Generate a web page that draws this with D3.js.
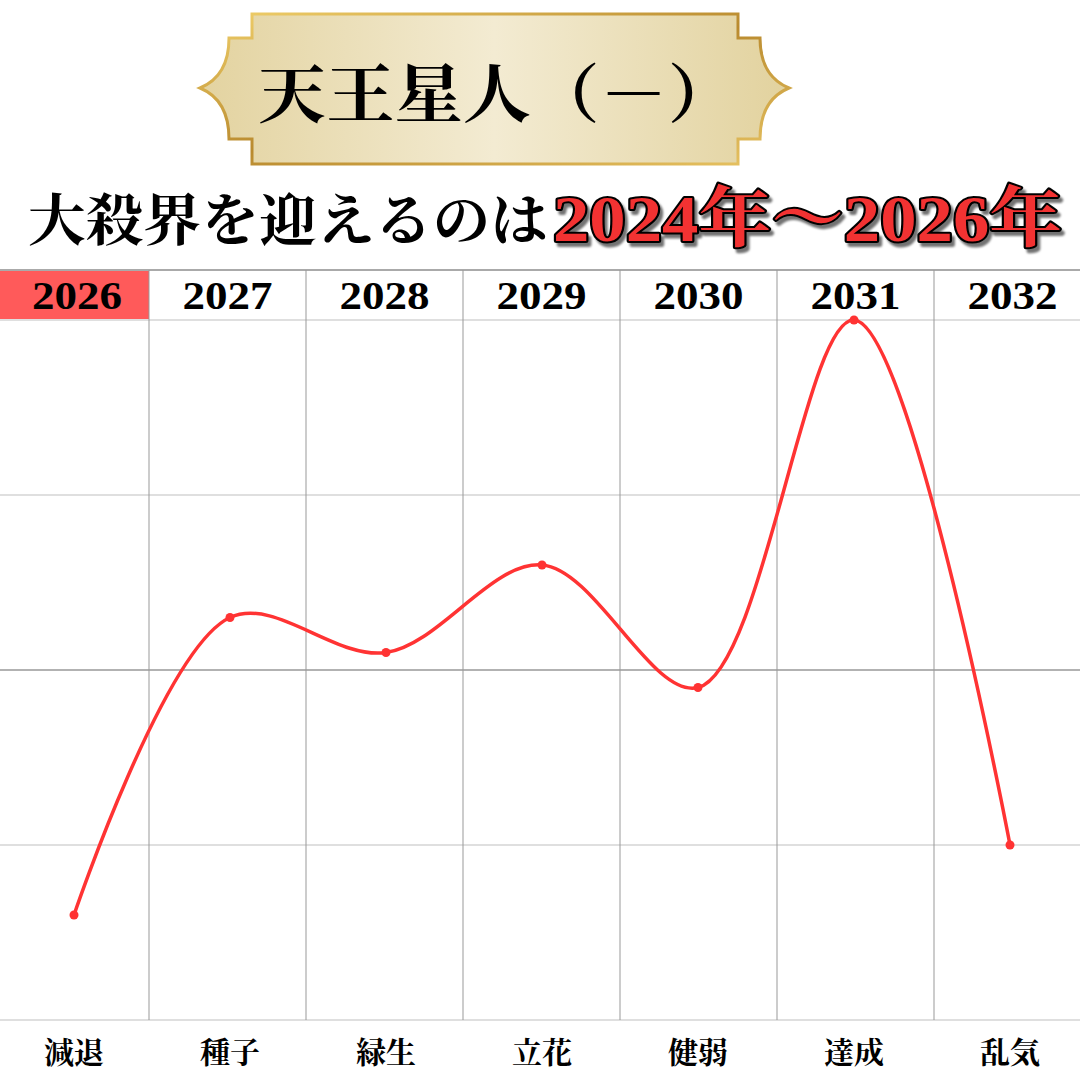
<!DOCTYPE html>
<html>
<head>
<meta charset="utf-8">
<script src="https://cdn.jsdelivr.net/npm/d3@7"></script>
<style>
  body { margin: 0; background: #fff; }
  svg { display: block; }
</style>
</head>
<body>
<svg width="1080" height="1080"></svg>
<script>
// data
let years = ["2026", "2027", "2028", "2029", "2030", "2031", "2032"]
let phases = ["減退", "種子", "緑生", "立花", "健弱", "達成", "乱気"]
let fortune = [0.6, 2.3, 2.1, 2.6, 1.9, 4.0, 1.0]
let yTicks = [0, 1, 2, 3, 4]

let titleText = "天王星人（－）"
let subText = "大殺界を迎えるのは"
let subRed = "2024年〜2026年"

let jpFont = "'Noto Serif CJK JP', 'Noto Sans CJK JP', sans-serif"
let numFont = "'Liberation Serif', 'DejaVu Serif', 'Noto Serif CJK JP', serif"

let svg = d3.select("svg")

let defs = svg.append("defs")
let gold = defs.append("linearGradient").attr("id", "gold")
  .attr("x1", "0%").attr("x2", "100%")
gold.append("stop").attr("offset", "0%").attr("stop-color", "#e3d3a0")
gold.append("stop").attr("offset", "50%").attr("stop-color", "#f3ebd2")
gold.append("stop").attr("offset", "100%").attr("stop-color", "#e2d29e")

let goldEdge = defs.append("linearGradient").attr("id", "goldEdge")
  .attr("x1", "0%").attr("x2", "100%").attr("y1", "0%").attr("y2", "100%")
goldEdge.append("stop").attr("offset", "0%").attr("stop-color", "#f0cf6a")
goldEdge.append("stop").attr("offset", "50%").attr("stop-color", "#b98a2e")
goldEdge.append("stop").attr("offset", "100%").attr("stop-color", "#e8c463")

defs.append("filter").attr("id", "shadow")
  .attr("x", "-5%").attr("y", "-20%").attr("width", "110%").attr("height", "140%")
  .append("feDropShadow")
  .attr("dx", 3).attr("dy", 4)
  .attr("stdDeviation", 1)
  .attr("flood-color", "#000")
  .attr("flood-opacity", 0.55)

// banner
let banner = d3.path()
banner.moveTo(252, 14)
banner.lineTo(738, 14)
banner.lineTo(738, 38)
banner.lineTo(760, 38)
banner.quadraticCurveTo(760, 76, 789, 88)
banner.quadraticCurveTo(760, 100, 760, 139)
banner.lineTo(738, 139)
banner.lineTo(738, 164)
banner.lineTo(252, 164)
banner.lineTo(252, 139)
banner.lineTo(229, 139)
banner.quadraticCurveTo(229, 100, 200, 88)
banner.quadraticCurveTo(229, 76, 229, 38)
banner.lineTo(252, 38)
banner.closePath()

svg.append("path")
  .attr("d", banner.toString())
  .style("fill", "url(#gold)")
  .style("stroke", "url(#goldEdge)")
  .style("stroke-width", 3)

svg.append("text")
  .attr("x", 258)
  .attr("y", 117)
  .attr("textLength", 478)
  .attr("lengthAdjust", "spacingAndGlyphs")
  .style("font-family", jpFont)
  .style("font-weight", 700)
  .style("font-size", "64px")
  .style("fill", "#000")
  .text(titleText)

// subtitle
svg.append("text")
  .attr("x", 28)
  .attr("y", 240)
  .attr("textLength", 520)
  .attr("lengthAdjust", "spacingAndGlyphs")
  .style("font-family", jpFont)
  .style("font-weight", 700)
  .style("font-size", "56px")
  .style("fill", "#000")
  .text(subText)

svg.append("text")
  .attr("x", 553)
  .attr("y", 241)
  .attr("textLength", 509)
  .attr("lengthAdjust", "spacingAndGlyphs")
  .attr("filter", "url(#shadow)")
  .style("font-family", numFont)
  .style("font-weight", 700)
  .style("font-size", "66px")
  .style("fill", "#f23232")
  .style("stroke", "#000")
  .style("stroke-width", 4)
  .style("paint-order", "stroke")
  .style("stroke-linejoin", "round")
  .text(subRed)

// scales
let band = d3.scaleBand().domain(years).range([-8, 1091])
let x = d3.scalePoint().domain(phases).range([74, 1010])
let y = d3.scaleLinear().domain([0, 4]).range([1020, 320])

// header row
svg.append("rect")
  .attr("x", 0)
  .attr("y", 271)
  .attr("width", band("2027"))
  .attr("height", 48)
  .style("fill", "#ff5a5a")

svg.append("line")
  .attr("x1", 0).attr("x2", 1080)
  .attr("y1", 270).attr("y2", 270)
  .style("stroke", "#aaa")
  .style("stroke-width", 2)

// horizontal grid
svg.selectAll(".hgrid")
  .data(yTicks)
  .join("line")
  .attr("class", "hgrid")
  .attr("x1", 0).attr("x2", 1080)
  .attr("y1", d => y(d)).attr("y2", d => y(d))
  .style("stroke", d => d === 2 ? "#999" : "#d4d4d4")
  .style("stroke-width", 1.5)

// vertical grid
svg.selectAll(".vgrid")
  .data(years.slice(1))
  .join("line")
  .attr("class", "vgrid")
  .attr("x1", d => band(d)).attr("x2", d => band(d))
  .attr("y1", 270).attr("y2", 1020)
  .style("stroke", "#999")
  .style("stroke-width", 1)

svg.selectAll(".year")
  .data(years)
  .join("text")
  .attr("class", "year")
  .attr("x", (d, i) => (i === 0 ? 77 : band(d) + band.bandwidth() / 2) - 45)
  .attr("y", 309)
  .attr("textLength", 90)
  .attr("lengthAdjust", "spacingAndGlyphs")
  .style("font-family", numFont)
  .style("font-weight", 700)
  .style("font-size", "40px")
  .style("fill", "#000")
  .text(d => d)

// curve
let line = d3.line()
  .x((d, i) => x(phases[i]))
  .y(d => y(d))
  .curve(d3.curveCatmullRom.alpha(0.5))

svg.append("path")
  .datum(fortune)
  .attr("d", line)
  .style("fill", "none")
  .style("stroke", "#ff3333")
  .style("stroke-width", 3.5)

svg.selectAll(".dot")
  .data(fortune)
  .join("circle")
  .attr("class", "dot")
  .attr("cx", (d, i) => x(phases[i]))
  .attr("cy", d => y(d))
  .attr("r", 4.5)
  .style("fill", "#ff3333")

// bottom labels
svg.selectAll(".phase")
  .data(phases)
  .join("text")
  .attr("class", "phase")
  .attr("x", d => x(d))
  .attr("y", 1063)
  .attr("text-anchor", "middle")
  .style("font-family", jpFont)
  .style("font-weight", 700)
  .style("font-size", "30px")
  .style("fill", "#000")
  .text(d => d)
</script>
</body>
</html>
